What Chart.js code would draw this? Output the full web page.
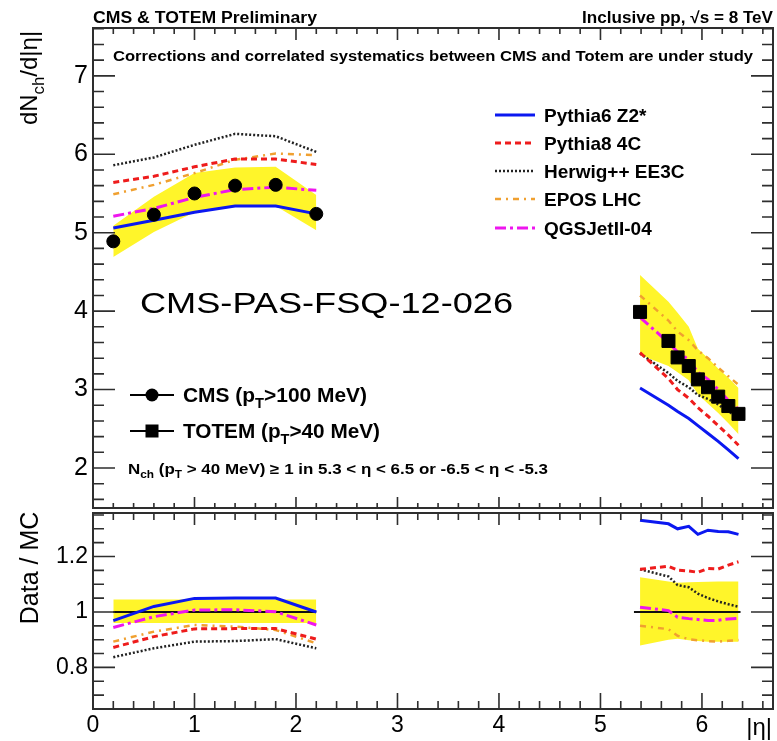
<!DOCTYPE html>
<html>
<head>
<meta charset="utf-8">
<script src="https://cdn.jsdelivr.net/npm/chart.js@4.4.0/dist/chart.umd.min.js"></script>
<style>
  html, body { margin: 0; padding: 0; background: #fff; }
  #wrap { position: relative; width: 777px; height: 741px; }
  canvas { position: absolute; left: 0; }
  #top { top: 0; }
  #bot { top: 511px; }
</style>
</head>
<body>
<div id="wrap">
  <canvas id="top" width="777" height="511" style="width:777px;height:511px"></canvas>
  <canvas id="bot" width="777" height="230" style="width:777px;height:230px"></canvas>
</div>
<script>
// ---- data ----
const etaCMS   = [0.2, 0.6, 1.0, 1.4, 1.8, 2.2];
const etaTOTEM = [5.39, 5.67, 5.76, 5.87, 5.96, 6.06, 6.16, 6.26, 6.36];

const cmsData    = [4.89, 5.23, 5.50, 5.60, 5.61, 5.24];
const cmsSysHi   = [5.09, 5.46, 5.76, 5.83, 5.84, 5.48];
const cmsSysLo   = [4.69, 5.01, 5.26, 5.34, 5.34, 5.03];
const totemData  = [3.99, 3.62, 3.41, 3.30, 3.13, 3.03, 2.91, 2.79, 2.69];
const totemSysHi = [4.46, 4.12, 3.98, 3.80, 3.52, 3.40, 3.27, 3.15, 3.02];
const totemSysLo = [3.44, 3.30, 3.22, 3.12, 2.94, 2.82, 2.70, 2.57, 2.43];

// model predictions, dN/d|eta|
const p6Left   = [5.06, 5.16, 5.26, 5.34, 5.34, 5.24];
const p6Right  = [3.02, 2.80, 2.72, 2.63, 2.54, 2.44, 2.34, 2.23, 2.12];
const p8Left   = [5.64, 5.72, 5.84, 5.94, 5.94, 5.87];
const p8Right  = [3.47, 3.14, 3.00, 2.89, 2.77, 2.66, 2.54, 2.42, 2.29];
const hwLeft   = [5.86, 5.96, 6.12, 6.26, 6.23, 6.03];
const hwRight  = [3.46, 3.21, 3.11, 3.03, 2.93, 2.88, 2.81, 2.72, 2.65];
const eposLeft = [5.49, 5.61, 5.76, 5.93, 6.01, 5.99];
const eposRight= [4.20, 3.88, 3.74, 3.63, 3.50, 3.40, 3.28, 3.17, 3.06];
const qgsLeft  = [5.21, 5.31, 5.45, 5.55, 5.58, 5.54];
const qgsRight = [3.92, 3.60, 3.48, 3.38, 3.22, 3.13, 3.00, 2.86, 2.75];

// data / MC
const p6RatioL   = [0.969, 1.020, 1.049, 1.050, 1.050, 1.000];
const p6RatioR   = [1.331, 1.318, 1.300, 1.309, 1.280, 1.295, 1.290, 1.289, 1.280];
const p8RatioL   = [0.872, 0.911, 0.939, 0.940, 0.940, 0.902];
const p8RatioR   = [1.154, 1.165, 1.151, 1.148, 1.143, 1.157, 1.155, 1.169, 1.181];
const hwRatioL   = [0.837, 0.869, 0.893, 0.895, 0.902, 0.869];
const hwRatioR   = [1.154, 1.128, 1.097, 1.089, 1.066, 1.050, 1.038, 1.028, 1.019];
const eposRatioL = [0.893, 0.929, 0.953, 0.947, 0.935, 0.887];
const eposRatioR = [0.950, 0.938, 0.914, 0.902, 0.898, 0.895, 0.893, 0.896, 0.899];
const qgsRatioL  = [0.944, 0.983, 1.007, 1.008, 1.001, 0.953];
const qgsRatioR  = [1.017, 1.005, 0.981, 0.976, 0.973, 0.969, 0.970, 0.975, 0.977];
const bandRatioHiL = [1.045, 1.045, 1.045, 1.045, 1.045, 1.045];
const bandRatioLoL = [0.960, 0.960, 0.960, 0.960, 0.960, 0.960];
const bandRatioHiR = [1.125, 1.110, 1.105, 1.107, 1.108, 1.109, 1.110, 1.110, 1.110];
const bandRatioLoR = [0.879, 0.900, 0.903, 0.898, 0.895, 0.893, 0.893, 0.893, 0.893];
const unityLeft  = [0.2, 2.2];
const unityRight = [5.33, 6.38];

const xTicks    = [0, 1, 2, 3, 4, 5, 6];
const yTopTicks = [2, 3, 4, 5, 6, 7];
const yBotTicks = [0.8, 1, 1.2];

// ---- styles ----
const F = '"Liberation Sans", Arial, Helvetica, sans-serif';
const YELLOW = '#fff52a';
const models = [
  { name: 'Pythia6 Z2*',   top: [p6Left, p6Right],     ratio: [p6RatioL, p6RatioR],     color: '#0b18f0', width: 3,   dash: [] },
  { name: 'Pythia8 4C',    top: [p8Left, p8Right],     ratio: [p8RatioL, p8RatioR],     color: '#ee1c1c', width: 3,   dash: [6, 4] },
  { name: 'Herwig++ EE3C', top: [hwLeft, hwRight],     ratio: [hwRatioL, hwRatioR],     color: '#222222', width: 2.5, dash: [2, 2] },
  { name: 'EPOS LHC',      top: [eposLeft, eposRight], ratio: [eposRatioL, eposRatioR], color: '#f0a030', width: 2.5, dash: [6, 5, 2, 5] },
  { name: 'QGSJetII-04',   top: [qgsLeft, qgsRight],   ratio: [qgsRatioL, qgsRatioR],   color: '#ee16ee', width: 3,   dash: [11, 4, 3, 4] }
];

const pts = (xs, ys) => xs.map((x, i) => ({ x: x, y: ys[i] }));

function lineSet(xs, ys, m, order) {
  return { data: pts(xs, ys), borderColor: m.color, borderWidth: m.width, borderDash: m.dash,
           pointRadius: 0, fill: false, tension: 0, order: order };
}
function band(xs, hi, lo) {
  return [
    { data: pts(xs, hi), borderWidth: 0, borderColor: 'rgba(0,0,0,0)', pointRadius: 0, fill: false, tension: 0, order: 10 },
    { data: pts(xs, lo), borderWidth: 0, borderColor: 'rgba(0,0,0,0)', pointRadius: 0, fill: '-1',
      backgroundColor: YELLOW, tension: 0, order: 10 }
  ];
}

function drawText(ctx, parts, x, y, size, o) {
  o = o || {};
  const fnt = s => (o.bold ? 'bold ' : '') + s + 'px ' + F;
  if (typeof parts === 'string') parts = [[parts]];
  let w = 0;
  for (const [t, sub] of parts) { ctx.font = fnt(sub ? size * 0.7 : size); w += ctx.measureText(t).width; }
  const sx = o.width ? o.width / w : 1;
  ctx.save();
  ctx.translate(x, y);
  if (o.rotate) ctx.rotate(o.rotate);
  ctx.scale(sx, 1);
  ctx.fillStyle = '#000';
  ctx.textAlign = 'left';
  ctx.textBaseline = 'alphabetic';
  let cx = o.align === 'right' ? -w : (o.align === 'center' ? -w / 2 : 0);
  for (const [t, sub] of parts) {
    ctx.font = fnt(sub ? size * 0.7 : size);
    ctx.fillText(t, cx, sub ? size * 0.28 : 0);
    cx += ctx.measureText(t).width;
  }
  ctx.restore();
}

// ROOT-style frame with inward ticks on all four sides
const framePlugin = {
  id: 'frame',
  afterDatasetsDraw(chart, args, o) {
    const { ctx, chartArea: a } = chart;
    const x = chart.scales.x, y = chart.scales.y;
    ctx.save();
    ctx.strokeStyle = '#2e2e2e';
    ctx.lineWidth = 1.6;
    ctx.beginPath();
    let i0 = Math.ceil(x.min / o.xStep - 1e-6), i1 = Math.floor(x.max / o.xStep + 1e-6);
    for (let i = i0; i <= i1; i++) {
      const p = x.getPixelForValue(i * o.xStep);
      const maj = i % o.xEvery === 0;
      ctx.moveTo(p, a.bottom); ctx.lineTo(p, a.bottom - (maj ? o.xBot[0] : o.xBot[1]));
      ctx.moveTo(p, a.top);    ctx.lineTo(p, a.top + (maj ? o.xTop[0] : o.xTop[1]));
    }
    i0 = Math.ceil(y.min / o.yStep - 1e-6); i1 = Math.floor(y.max / o.yStep + 1e-6);
    for (let i = i0; i <= i1; i++) {
      const p = y.getPixelForValue(i * o.yStep);
      const len = i % o.yEvery === 0 ? o.yLen[0] : o.yLen[1];
      ctx.moveTo(a.left, p);  ctx.lineTo(a.left + len, p);
      ctx.moveTo(a.right, p); ctx.lineTo(a.right - len, p);
    }
    ctx.stroke();
    ctx.lineWidth = 2;
    ctx.strokeRect(a.left, a.top, a.right - a.left, a.bottom - a.top);
    ctx.restore();
  }
};

const topText = {
  id: 'topText',
  afterDraw(chart) {
    const ctx = chart.ctx;
    drawText(ctx, 'CMS & TOTEM Preliminary', 93, 23, 16, { bold: true, width: 224 });
    drawText(ctx, 'Inclusive pp, √s = 8 TeV', 773, 23, 16, { bold: true, align: 'right', width: 191 });
    drawText(ctx, 'Corrections and correlated systematics between CMS and Totem are under study', 113, 61, 14.5, { bold: true, width: 640 });
    drawText(ctx, 'CMS-PAS-FSQ-12-026', 140, 313, 29, { width: 373 });
    drawText(ctx, [['dN'], ['ch', 1], ['/d|η|']], 37, 78, 24, { rotate: -Math.PI / 2, align: 'center' });

    // model legend
    const rows = [115, 143, 171, 199, 228];
    models.forEach((m, i) => {
      ctx.save();
      ctx.strokeStyle = m.color; ctx.lineWidth = m.width; ctx.setLineDash(m.dash);
      ctx.beginPath(); ctx.moveTo(495, rows[i]); ctx.lineTo(535, rows[i]); ctx.stroke();
      ctx.restore();
      drawText(ctx, m.name, 544, rows[i] + 7, 19, { bold: true });
    });

    // data legend
    ctx.save();
    ctx.strokeStyle = '#000'; ctx.fillStyle = '#000'; ctx.lineWidth = 2;
    ctx.beginPath();
    ctx.moveTo(130, 395); ctx.lineTo(174, 395);
    ctx.moveTo(130, 431); ctx.lineTo(174, 431);
    ctx.stroke();
    ctx.beginPath(); ctx.arc(152, 395, 6.5, 0, 2 * Math.PI); ctx.fill();
    ctx.fillRect(145.5, 424.5, 13, 13);
    ctx.restore();
    drawText(ctx, [['CMS (p'], ['T', 1], ['>100 MeV)']], 183, 402, 20, { bold: true, width: 184 });
    drawText(ctx, [['TOTEM (p'], ['T', 1], ['>40 MeV)']], 183, 438, 20, { bold: true, width: 197 });
    drawText(ctx, [['N'], ['ch', 1], [' (p'], ['T', 1], [' > 40 MeV) ≥ 1 in 5.3 < η < 6.5 or -6.5 < η < -5.3']],
             128, 474, 14.5, { bold: true, width: 420 });
  }
};

const botText = {
  id: 'botText',
  afterDraw(chart) {
    const ctx = chart.ctx;
    drawText(ctx, 'Data / MC', 38, 57, 25, { rotate: -Math.PI / 2, align: 'center' });
    drawText(ctx, '|η|', 772, 224, 24, { align: 'right' });
  }
};

// axis sizes are fixed so both panels share the same frame edges
const fixY = ax => { ax.width = 93; ax.paddingTop = 0; ax.paddingBottom = 0; };
const fixX = ax => { ax.height = 32; ax.paddingLeft = 0; ax.paddingRight = 0; };
const plainNum = v => String(v);

// ---- top panel ----
const topSets = [];
topSets.push({ data: pts(etaCMS, cmsData), showLine: false, pointStyle: 'circle', pointRadius: 6.5,
               pointBackgroundColor: '#000', pointBorderColor: '#000', order: 0 });
topSets.push({ data: pts(etaTOTEM, totemData), showLine: false, pointStyle: 'rect', pointRadius: 9.2,
               pointBackgroundColor: '#000', pointBorderColor: '#000', order: 0 });
models.forEach((m, i) => {
  topSets.push(lineSet(etaCMS, m.top[0], m, 1 + i));
  topSets.push(lineSet(etaTOTEM, m.top[1], m, 1 + i));
});
topSets.push(...band(etaCMS, cmsSysHi, cmsSysLo));
topSets.push(...band(etaTOTEM, totemSysHi, totemSysLo));

const tickFont = size => ({ size: size, family: F });

new Chart(document.getElementById('top'), {
  type: 'line',
  data: { datasets: topSets },
  options: {
    responsive: false,
    animation: false,
    layout: { autoPadding: false, padding: { left: 0, right: 4, top: 28, bottom: 3 } },
    plugins: {
      legend: { display: false },
      tooltip: { enabled: false },
      frame: { xStep: 0.2, xEvery: 5, xBot: [11, 5], xTop: [12, 6], yStep: 0.2, yEvery: 5, yLen: [22, 11] }
    },
    scales: {
      x: { type: 'linear', min: 0, max: 6.7, display: false },
      y: {
        type: 'linear', min: 1.49, max: 7.61,
        afterBuildTicks: ax => { ax.ticks = yTopTicks.map(v => ({ value: v })); },
        afterFit: fixY,
        grid: { display: false, drawTicks: false },
        border: { display: false },
        ticks: { padding: 5, color: '#000', font: tickFont(25), callback: plainNum }
      }
    }
  },
  plugins: [framePlugin, topText]
});

// ---- ratio panel ----
const botSets = [];
models.forEach((m, i) => {
  botSets.push(lineSet(etaCMS, m.ratio[0], m, 1 + i));
  botSets.push(lineSet(etaTOTEM, m.ratio[1], m, 1 + i));
});
const unity = { color: '#111', width: 2, dash: [] };
botSets.push(lineSet(unityLeft, [1, 1], unity, 6));
botSets.push(lineSet(unityRight, [1, 1], unity, 6));
botSets.push(...band(etaCMS, bandRatioHiL, bandRatioLoL));
botSets.push(...band(etaTOTEM, bandRatioHiR, bandRatioLoR));

new Chart(document.getElementById('bot'), {
  type: 'line',
  data: { datasets: botSets },
  options: {
    responsive: false,
    animation: false,
    layout: { autoPadding: false, padding: { left: 0, right: 4, top: 2, bottom: 0 } },
    plugins: {
      legend: { display: false },
      tooltip: { enabled: false },
      frame: { xStep: 0.2, xEvery: 5, xBot: [16, 8], xTop: [12, 7], yStep: 0.05, yEvery: 4, yLen: [22, 11] }
    },
    scales: {
      x: {
        type: 'linear', min: 0, max: 6.7,
        afterBuildTicks: ax => { ax.ticks = xTicks.map(v => ({ value: v })); },
        afterFit: fixX,
        grid: { display: false, drawTicks: false },
        border: { display: false },
        ticks: { padding: 3, color: '#000', maxRotation: 0, autoSkip: false, font: tickFont(23), callback: plainNum }
      },
      y: {
        type: 'linear', min: 0.65, max: 1.357,
        afterBuildTicks: ax => { ax.ticks = yBotTicks.map(v => ({ value: v })); },
        afterFit: fixY,
        grid: { display: false, drawTicks: false },
        border: { display: false },
        ticks: { padding: 5, color: '#000', font: tickFont(23), callback: plainNum }
      }
    }
  },
  plugins: [framePlugin, botText]
});
</script>
</body>
</html>
